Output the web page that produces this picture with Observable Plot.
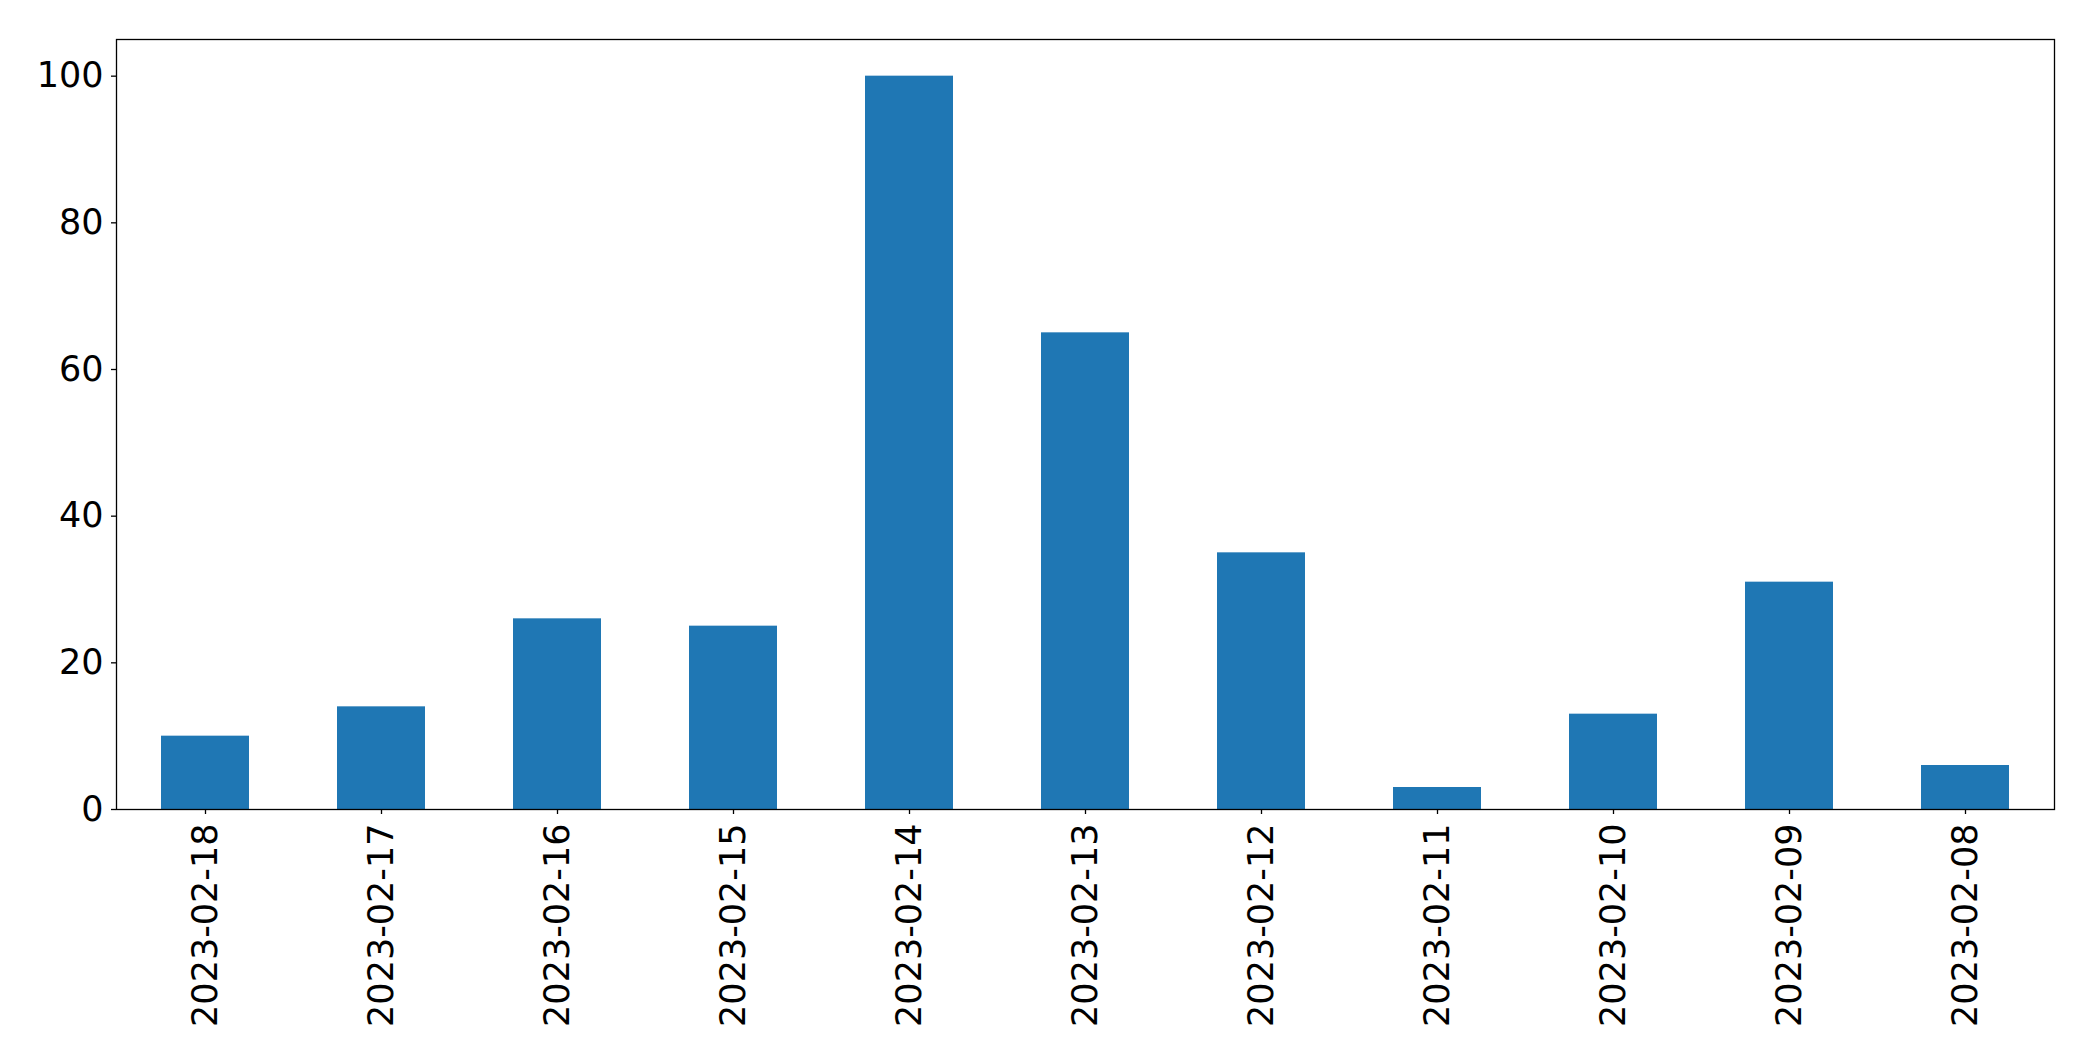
<!DOCTYPE html>
<html>
<head>
<meta charset="utf-8">
<script src="https://cdn.jsdelivr.net/npm/d3@7"></script>
<script src="https://cdn.jsdelivr.net/npm/@observablehq/plot@0.6"></script>
<style>
  html, body { margin: 0; padding: 0; background: #fff; }
  #chart svg { display: block; }
</style>
</head>
<body>
<div id="chart"></div>
<script>
const dates = ["2023-02-18","2023-02-17","2023-02-16","2023-02-15","2023-02-14","2023-02-13","2023-02-12","2023-02-11","2023-02-10","2023-02-09","2023-02-08"];
const counts = [10, 14, 26, 25, 100, 65, 35, 3, 13, 31, 6];
const yTicks = [0, 20, 40, 60, 80, 100];

const data = dates.map((d, i) => ({date: d, count: counts[i]}));

const chart = Plot.plot({
  width: 2093,
  height: 1061,
  marginLeft: 116,
  marginRight: 39,
  marginTop: 39,
  marginBottom: 252,
  style: {fontFamily: "DejaVu Sans", fontSize: "35px", color: "#000", background: "#fff"},
  x: {domain: dates, paddingInner: 0.5, paddingOuter: 0.25, label: null},
  y: {domain: [0, 105], label: null},
  marks: [
    Plot.barY(data, {x: "date", y: "count", fill: "#1f77b4"}),
    Plot.frame({stroke: "#000", strokeWidth: 1.3}),
    Plot.axisY({ticks: yTicks, tickSize: 5, tickPadding: 8, label: null, fontSize: 35, strokeWidth: 1.3}),
    Plot.axisX({tickSize: 5, tickPadding: 9, tickRotate: -90, label: null, fontSize: 35, strokeWidth: 1.3})
  ]
});
document.getElementById("chart").appendChild(chart);
</script>
</body>
</html>
